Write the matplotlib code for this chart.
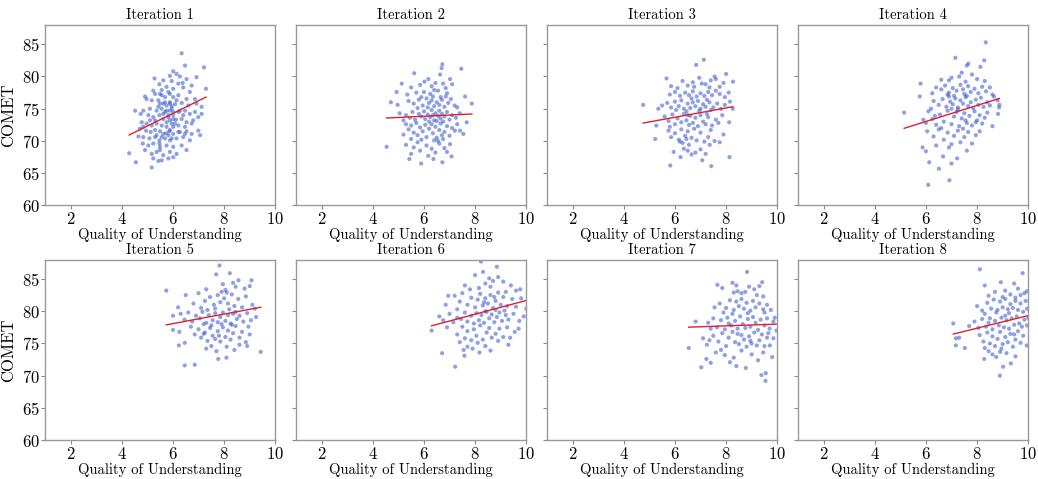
import numpy as np
import matplotlib
matplotlib.use("Agg")
import matplotlib.pyplot as plt

plt.rcParams["font.family"] = "serif"
plt.rcParams["font.serif"] = ["cmr10", "DejaVu Serif"]
plt.rcParams["mathtext.fontset"] = "cm"
plt.rcParams["axes.formatter.use_mathtext"] = True

# (quality, comet) pairs
it1 = [(6.34, 83.6), (6.47, 81.7), (7.21, 81.4), (6.01, 80.8), (5.88, 80.1), (6.14, 80.4), (6.27, 80.0),
       (5.28, 79.7), (5.62, 79.4), (6.92, 79.9), (6.53, 79.6), (5.95, 79.3), (6.21, 78.9), (6.73, 78.6),
       (6.38, 79.0), (5.47, 78.8), (5.75, 78.4), (7.29, 78.1), (5.56, 77.9), (5.23, 77.8), (6.01, 78.1),
       (5.82, 77.6), (6.40, 78.3), (6.66, 77.6), (4.91, 76.9), (4.97, 76.5), (5.30, 77.3), (5.56, 77.1),
       (5.88, 77.3), (6.01, 76.8), (6.21, 77.1), (6.53, 76.5), (6.86, 76.5), (5.17, 76.3), (5.43, 76.3),
       (5.69, 76.0), (5.88, 75.8), (5.49, 75.8), (5.75, 75.5), (5.95, 75.4), (6.08, 75.7), (6.34, 75.9),
       (6.60, 75.5), (6.92, 75.8), (7.12, 75.3), (4.52, 74.7), (4.84, 74.7), (5.10, 75.0), (5.36, 74.7),
       (5.56, 75.0), (5.69, 74.5), (5.88, 74.7), (6.01, 74.5), (6.21, 74.5), (6.47, 74.7), (6.66, 74.2),
       (6.86, 74.5), (7.12, 74.2), (4.74, 74.2), (5.04, 74.0), (5.23, 73.7), (5.47, 74.0), (5.62, 73.4),
       (5.82, 73.7), (6.01, 74.0), (6.12, 73.3), (6.34, 73.4), (6.53, 72.9), (6.79, 73.2), (6.99, 73.7),
       (4.78, 72.9), (4.97, 72.7), (5.17, 72.4), (5.36, 72.7), (5.56, 72.4), (5.75, 72.9), (5.95, 72.7),
       (6.21, 72.4), (6.47, 72.2), (6.73, 72.7), (4.95, 71.6), (5.13, 71.4), (5.30, 71.7), (5.49, 71.5),
       (5.73, 71.2), (5.86, 71.5), (6.01, 71.1), (6.27, 71.4), (6.53, 71.5), (6.73, 71.1), (6.99, 71.6),
       (4.65, 70.7), (4.84, 70.6), (5.08, 70.4), (5.30, 70.6), (5.47, 70.1), (5.69, 70.4), (5.88, 70.1),
       (6.14, 70.4), (6.40, 70.6), (6.66, 70.1), (7.06, 70.9), (4.82, 69.6), (5.04, 69.3), (5.23, 69.6),
       (5.49, 69.1), (5.75, 69.3), (6.01, 69.1), (6.34, 69.3), (6.53, 68.6), (4.29, 68.1), (4.91, 68.6),
       (5.17, 68.0), (5.36, 68.3), (5.62, 67.8), (5.88, 68.3), (6.01, 67.5), (6.14, 68.0), (4.55, 66.7),
       (5.23, 67.3), (5.56, 67.0), (5.82, 67.3), (5.17, 65.9), (5.43, 66.9), (5.49, 68.6), (5.62, 75.8),
       (5.88, 76.0), (5.95, 75.0), (5.75, 74.7), (5.62, 74.2), (5.82, 74.0), (6.01, 73.4), (5.88, 73.2),
       (6.08, 72.7), (5.75, 72.2), (5.88, 71.7), (6.01, 72.2), (5.62, 71.1), (5.82, 70.9), (5.56, 70.6),
       (5.95, 70.4), (5.36, 70.9), (5.47, 69.6), (5.30, 73.2), (5.43, 75.3), (5.49, 77.3), (5.69, 76.8),
       (6.14, 76.3), (6.27, 74.7), (6.40, 74.0), (6.21, 71.4), (6.47, 71.1), (5.10, 73.2), (4.84, 72.2),
       (4.71, 71.9)]

it2 = [(5.13, 78.9), (5.62, 80.5), (6.02, 79.2), (6.17, 79.6), (6.63, 80.3), (6.69, 81.3), (6.72, 81.9),
       (7.02, 79.6), (7.46, 81.2), (4.93, 77.6), (5.5, 78.3), (5.85, 78.7), (6.3, 78.5), (6.45, 79.0),
       (6.85, 78.2), (7.1, 78.8), (6.0, 77.6), (6.25, 77.3), (5.7, 77.5), (6.55, 77.8), (6.9, 77.4),
       (7.61, 76.9), (5.35, 77.2), (6.4, 77.9), (6.75, 78.9), (4.71, 76.0), (4.97, 75.6), (5.4, 76.2),
       (5.6, 75.8), (5.8, 76.4), (5.95, 75.5), (6.1, 76.6), (6.2, 75.9), (6.3, 76.3), (6.4, 75.4),
       (6.5, 76.0), (6.6, 75.6), (6.7, 76.4), (6.8, 75.3), (6.95, 75.9), (7.05, 76.5), (7.2, 75.5),
       (7.87, 75.8), (5.9, 76.8), (6.35, 76.9), (6.65, 76.8), (6.15, 75.2), (5.75, 75.1), (6.85, 76.9),
       (7.3, 75.2), (5.05, 74.3), (5.3, 74.0), (5.45, 73.6), (5.55, 74.5), (5.65, 73.3), (5.8, 74.2),
       (5.9, 73.8), (6.0, 74.6), (6.05, 73.4), (6.15, 74.1), (6.25, 73.7), (6.3, 74.8), (6.4, 73.2),
       (6.45, 74.3), (6.55, 73.9), (6.6, 74.7), (6.65, 73.5), (6.7, 74.2), (6.8, 73.8), (6.9, 74.5),
       (7.0, 73.3), (7.1, 74.0), (7.25, 73.6), (7.4, 74.3), (7.67, 72.9), (5.2, 73.2), (6.2, 73.0),
       (6.5, 73.1), (6.75, 73.0), (6.35, 74.0), (5.3, 72.6), (5.4, 71.8), (5.5, 72.4), (5.6, 71.3),
       (5.7, 72.8), (5.75, 70.9), (5.85, 72.1), (5.95, 71.5), (6.05, 72.5), (6.1, 70.6), (6.2, 71.9),
       (6.3, 72.6), (6.35, 71.2), (6.45, 72.2), (6.5, 70.5), (6.6, 71.7), (6.65, 72.7), (6.7, 70.9),
       (6.8, 71.4), (6.9, 72.3), (7.0, 70.8), (7.1, 72.0), (7.21, 71.6), (7.41, 71.6), (7.54, 71.1),
       (5.5, 70.3), (5.9, 70.2), (6.4, 70.1), (6.55, 70.0), (6.75, 70.3), (5.2, 71.0), (7.3, 72.6),
       (4.54, 69.1), (5.3, 69.4), (5.6, 69.0), (5.85, 68.5), (6.1, 69.3), (6.3, 68.8), (6.6, 69.6),
       (7.02, 69.5), (6.45, 68.2), (6.8, 68.9), (5.5, 68.0), (6.17, 67.7), (6.37, 67.2), (5.43, 67.2),
       (5.89, 66.5), (6.72, 66.7), (7.08, 67.6), (6.9, 68.3), (5.75, 69.8)]

it3 = [(7.13, 82.6), (6.83, 81.8), (5.67, 79.7), (8.0, 80.4), (8.27, 79.2), (7.55, 80.0), (7.6, 79.6),
       (7.4, 79.4), (7.2, 78.8), (6.7, 79.1), (6.5, 78.6), (6.3, 79.3), (5.85, 78.5), (6.95, 79.8),
       (7.75, 78.4), (7.9, 79.0), (6.1, 78.2), (7.35, 78.3), (6.75, 78.4), (7.05, 78.9), (5.8, 77.2),
       (6.0, 77.6), (6.2, 77.0), (6.4, 77.5), (6.55, 77.1), (6.7, 77.7), (6.85, 76.9), (7.0, 77.4),
       (7.15, 77.0), (7.3, 77.6), (7.45, 77.1), (7.6, 77.8), (7.75, 77.3), (7.95, 76.8), (8.1, 77.5),
       (6.65, 76.6), (7.25, 76.4), (4.76, 75.6), (5.5, 75.5), (5.7, 75.9), (5.85, 75.2), (6.0, 76.1),
       (6.15, 75.4), (6.25, 76.3), (6.35, 75.0), (6.5, 75.8), (6.6, 75.1), (6.7, 76.0), (6.8, 75.4),
       (6.9, 76.2), (7.0, 75.0), (7.1, 75.7), (7.2, 75.3), (7.35, 76.0), (7.5, 75.2), (7.65, 75.8),
       (7.8, 75.0), (7.95, 75.6), (8.26, 75.0), (8.15, 76.1), (6.45, 74.6), (6.95, 74.7), (7.4, 74.8),
       (5.35, 75.0), (6.05, 74.8), (5.27, 72.4), (5.6, 73.8), (5.75, 73.1), (5.9, 74.1), (6.0, 72.6),
       (6.1, 73.5), (6.25, 72.9), (6.35, 74.2), (6.45, 73.2), (6.55, 72.5), (6.6, 73.9), (6.7, 72.8),
       (6.8, 73.6), (6.9, 72.3), (7.0, 74.0), (7.1, 73.0), (7.2, 72.6), (7.3, 73.7), (7.45, 72.4),
       (7.6, 73.3), (7.7, 72.8), (7.85, 74.0), (8.12, 72.9), (6.5, 74.0), (7.25, 74.2), (5.8, 72.2),
       (5.23, 70.3), (5.75, 71.6), (5.85, 70.6), (6.0, 71.2), (6.15, 70.2), (6.25, 71.8), (6.3, 69.7),
       (6.4, 70.8), (6.5, 71.5), (6.55, 69.4), (6.65, 70.5), (6.75, 71.9), (6.85, 70.1), (7.0, 71.3),
       (7.15, 69.9), (7.3, 70.6), (7.4, 71.7), (7.55, 70.0), (7.75, 69.8), (7.36, 69.4), (6.2, 69.9),
       (6.45, 70.3), (7.9, 71.0), (5.82, 66.2), (7.42, 66.1), (8.13, 67.5), (7.07, 67.0), (6.22, 67.5),
       (6.5, 68.5), (6.8, 68.2), (7.0, 68.7), (6.35, 68.8), (7.2, 68.0), (5.95, 68.3), (6.65, 67.9)]

it4 = [(8.34, 85.3), (7.15, 82.9), (7.66, 82.0), (8.28, 82.5), (8.13, 81.5), (7.6, 81.7), (7.4, 80.6),
       (6.9, 79.4), (7.0, 79.8), (7.3, 80.0), (7.8, 80.3), (8.0, 79.6), (8.3, 79.3), (6.6, 79.5),
       (7.55, 79.2), (5.79, 78.9), (6.4, 78.3), (6.6, 78.0), (6.75, 78.6), (6.9, 77.5), (7.05, 78.2),
       (7.2, 77.8), (7.35, 78.7), (7.5, 77.3), (7.65, 78.5), (7.75, 77.6), (7.9, 78.1), (8.05, 77.4),
       (8.2, 78.4), (8.35, 77.7), (8.5, 78.3), (6.85, 77.2), (7.1, 77.0), (7.45, 78.0), (8.6, 77.2),
       (6.25, 77.4), (5.76, 76.9), (6.3, 76.2), (6.5, 75.6), (6.65, 76.5), (6.8, 75.3), (6.95, 76.1),
       (7.05, 75.7), (7.15, 76.6), (7.25, 75.2), (7.35, 76.3), (7.45, 75.8), (7.55, 76.8), (7.65, 75.4),
       (7.75, 76.0), (7.85, 75.1), (7.95, 76.4), (8.05, 75.6), (8.15, 76.7), (8.25, 75.3), (8.4, 76.0),
       (8.66, 76.9), (8.86, 75.2), (8.8, 76.3), (6.2, 75.0), (6.9, 76.9), (7.6, 77.0), (8.5, 75.5),
       (7.0, 75.0), (5.15, 74.4), (5.9, 73.3), (6.0, 72.8), (6.1, 74.6), (6.25, 73.4), (6.4, 72.5),
       (6.55, 74.1), (6.7, 73.0), (6.85, 74.7), (7.0, 72.6), (7.1, 73.8), (7.2, 74.5), (7.3, 72.3),
       (7.4, 73.5), (7.5, 74.3), (7.6, 72.8), (7.7, 73.9), (7.8, 72.4), (7.9, 74.6), (8.0, 73.2),
       (8.1, 74.0), (8.2, 72.7), (8.3, 73.6), (8.82, 74.2), (8.6, 72.3), (6.6, 72.0), (7.25, 74.9),
       (7.55, 73.2), (7.95, 72.9), (8.4, 74.4), (6.35, 73.9), (6.05, 71.5), (6.3, 70.7), (6.5, 71.8),
       (6.7, 70.2), (6.85, 71.3), (7.0, 69.5), (7.1, 70.8), (7.25, 71.6), (7.35, 69.8), (7.5, 70.6),
       (7.65, 71.4), (7.8, 69.6), (7.95, 70.9), (6.9, 69.0), (6.4, 69.3), (5.87, 69.0), (6.0, 68.4),
       (7.6, 68.5), (7.45, 71.9), (8.1, 71.5), (6.09, 63.2), (6.92, 63.9), (6.13, 66.7), (6.51, 65.7),
       (6.67, 67.6), (7.22, 67.3), (7.0, 66.5), (8.87, 75.6)]

it5 = [(7.82, 87.1), (8.22, 85.9), (7.69, 85.7), (9.07, 84.8), (8.56, 84.8), (5.74, 83.2), (7.95, 84.2),
       (8.35, 84.4), (7.3, 83.4), (8.05, 83.3), (8.45, 83.8), (8.8, 83.5), (7.9, 83.0), (8.1, 82.9),
       (9.0, 83.9), (6.5, 82.5), (7.0, 82.8), (7.25, 81.6), (7.45, 82.2), (7.6, 81.0), (7.75, 82.5),
       (7.85, 81.4), (8.0, 82.0), (8.15, 81.2), (8.3, 82.6), (8.4, 80.8), (8.55, 81.9), (8.7, 80.6),
       (8.85, 82.3), (9.1, 81.0), (6.8, 81.2), (7.1, 80.5), (8.2, 80.3), (7.35, 80.2), (6.2, 80.6),
       (9.2, 80.4), (7.65, 80.4), (6.3, 79.6), (6.45, 78.7), (6.6, 79.8), (6.75, 78.4), (6.9, 79.3),
       (7.05, 78.9), (7.15, 79.9), (7.3, 78.2), (7.4, 79.4), (7.55, 78.6), (7.65, 79.7), (7.75, 78.3),
       (7.85, 79.1), (7.95, 79.8), (8.05, 78.5), (8.15, 79.4), (8.25, 78.1), (8.35, 79.6), (8.5, 78.8),
       (8.6, 79.3), (8.75, 78.4), (8.9, 79.7), (9.05, 78.6), (9.25, 79.1), (6.0, 79.3), (7.2, 78.0),
       (7.9, 78.0), (8.45, 79.9), (6.0, 77.1), (6.25, 76.8), (6.7, 77.6), (6.85, 76.4), (7.0, 77.2),
       (7.1, 75.9), (7.25, 76.7), (7.35, 75.4), (7.45, 77.4), (7.55, 76.2), (7.65, 75.7), (7.75, 76.9),
       (7.85, 75.3), (7.95, 77.5), (8.05, 76.0), (8.15, 77.0), (8.25, 75.6), (8.35, 76.6), (8.45, 77.7),
       (8.6, 75.9), (8.7, 76.8), (8.85, 75.2), (9.0, 76.4), (8.95, 77.6), (7.5, 77.8), (8.3, 77.9),
       (7.2, 76.5), (7.8, 76.2), (9.43, 73.7), (6.46, 71.6), (6.85, 71.7), (7.77, 72.6), (8.09, 72.8),
       (6.23, 74.7), (6.46, 75.1), (7.3, 74.2), (7.7, 73.8), (8.1, 74.5), (8.4, 74.0), (8.6, 74.8),
       (7.5, 74.6), (8.9, 74.6)]

it6 = [(8.23, 87.7), (8.85, 86.9), (8.31, 86.1), (8.0, 85.6), (9.76, 83.4), (7.8, 83.4), (8.55, 85.1),
       (8.7, 84.7), (8.9, 85.3), (8.4, 84.3), (9.1, 84.6), (9.4, 84.0), (8.15, 83.6), (7.6, 84.0),
       (8.6, 83.8), (9.6, 83.2), (6.95, 82.4), (7.2, 82.4), (7.4, 81.5), (7.5, 82.8), (7.7, 81.0),
       (7.85, 82.1), (8.0, 80.6), (8.1, 81.8), (8.2, 82.7), (8.3, 80.9), (8.4, 82.0), (8.5, 81.2),
       (8.6, 82.5), (8.7, 80.5), (8.8, 81.6), (8.9, 82.9), (9.0, 81.0), (9.1, 82.2), (9.25, 80.8),
       (9.45, 81.9), (9.6, 80.7), (9.8, 82.0), (6.85, 81.0), (7.3, 80.3), (8.35, 81.4), (8.75, 82.2),
       (9.2, 83.0), (6.6, 79.2), (6.75, 78.6), (7.0, 79.6), (7.15, 78.3), (7.3, 79.0), (7.45, 78.8),
       (7.6, 79.8), (7.7, 78.4), (7.85, 79.3), (7.95, 78.1), (8.05, 79.7), (8.15, 78.6), (8.25, 79.4),
       (8.35, 78.2), (8.45, 79.9), (8.55, 78.9), (8.65, 79.5), (8.75, 78.3), (8.85, 79.1), (8.95, 79.8),
       (9.05, 78.5), (9.2, 79.4), (9.3, 78.7), (9.5, 79.6), (9.73, 78.5), (9.9, 79.2), (8.4, 80.0),
       (8.8, 80.2), (9.15, 80.1), (6.30, 77.0), (6.9, 77.5), (7.3, 76.4), (7.5, 77.6), (7.6, 75.8),
       (7.7, 76.9), (7.85, 75.5), (7.95, 77.2), (8.05, 76.2), (8.2, 77.8), (8.3, 75.6), (8.45, 76.7),
       (8.55, 77.4), (8.65, 75.9), (8.8, 76.5), (8.95, 77.3), (9.1, 76.0), (9.25, 77.5), (9.37, 75.9),
       (9.55, 76.8), (9.7, 77.3), (7.4, 75.2), (8.1, 75.1), (8.9, 75.4), (6.71, 73.5), (7.22, 71.4),
       (7.58, 73.1), (8.17, 73.6), (7.9, 74.2), (8.4, 74.6), (7.7, 74.5), (8.6, 73.9), (9.3, 74.8),
       (7.55, 74.0), (10.0, 80.4)]

it7 = [(8.82, 86.1), (9.41, 84.5), (8.25, 84.4), (7.66, 84.1), (8.4, 84.0), (8.9, 83.8), (9.1, 83.4),
       (9.3, 83.9), (8.6, 82.8), (9.2, 82.5), (8.3, 82.9), (8.45, 83.1), (7.85, 83.6), (9.45, 82.3),
       (8.75, 83.0), (7.75, 81.2), (8.0, 80.5), (8.15, 81.7), (8.3, 80.2), (8.4, 81.5), (8.5, 80.8),
       (8.6, 81.9), (8.7, 80.4), (8.8, 81.3), (8.95, 80.1), (9.05, 81.6), (9.15, 80.6), (9.3, 81.2),
       (9.45, 80.3), (9.6, 81.0), (7.55, 80.6), (7.9, 79.8), (8.25, 79.6), (8.85, 79.7), (9.5, 79.8),
       (9.75, 80.2), (6.81, 78.4), (7.3, 78.2), (7.5, 78.9), (7.65, 77.5), (7.8, 78.6), (7.95, 77.2),
       (8.05, 79.0), (8.2, 77.8), (8.35, 78.5), (8.45, 77.3), (8.55, 79.2), (8.65, 78.0), (8.75, 77.4),
       (8.85, 78.8), (8.95, 77.6), (9.05, 79.1), (9.15, 78.2), (9.25, 77.1), (9.35, 78.7), (9.5, 77.8),
       (9.6, 78.9), (9.7, 77.3), (9.85, 78.4), (9.97, 77.0), (9.9, 79.0), (7.4, 77.3), (8.1, 78.1),
       (6.54, 74.3), (7.1, 75.8), (7.25, 74.8), (7.5, 76.2), (7.7, 75.3), (7.85, 76.6), (8.0, 74.6),
       (8.1, 75.9), (8.25, 76.8), (8.35, 75.2), (8.5, 74.9), (8.6, 76.3), (8.7, 75.6), (8.8, 74.5),
       (8.9, 76.1), (9.0, 75.0), (9.1, 76.7), (9.2, 74.7), (9.3, 75.5), (9.4, 76.4), (9.5, 74.6),
       (9.6, 75.9), (9.71, 74.7), (9.85, 75.8), (9.65, 76.6), (8.45, 76.5), (8.95, 75.4), (7.35, 75.5),
       (7.03, 71.3), (7.40, 72.0), (7.23, 72.6), (8.4, 71.5), (8.77, 71.2), (9.54, 69.2), (9.38, 70.1),
       (9.55, 70.4), (7.6, 73.6), (7.95, 73.2), (8.3, 72.8), (8.6, 73.9), (9.0, 73.3), (9.25, 72.4),
       (9.45, 73.6), (9.8, 72.9), (8.15, 72.1), (7.8, 74.0)]

it8 = [(8.11, 86.5), (9.78, 85.9), (8.93, 84.5), (8.3, 84.0), (9.45, 84.3), (9.1, 83.2), (9.6, 83.5),
       (8.7, 83.0), (9.3, 82.6), (9.85, 82.8), (8.45, 82.4), (9.0, 82.2), (9.5, 82.1), (9.7, 82.5),
       (9.95, 83.1), (8.0, 80.8), (8.2, 80.1), (8.4, 81.3), (8.55, 80.4), (8.65, 81.8), (8.8, 80.2),
       (8.9, 81.5), (9.0, 80.6), (9.1, 81.9), (9.2, 80.3), (9.3, 81.1), (9.4, 80.5), (9.5, 81.6),
       (9.6, 80.2), (9.7, 81.2), (9.8, 79.9), (9.9, 81.6), (9.95, 80.4), (8.3, 79.6), (8.75, 79.8),
       (9.25, 79.7), (7.07, 78.1), (7.69, 77.7), (7.9, 78.4), (8.05, 77.4), (8.2, 78.8), (8.35, 77.6),
       (8.5, 78.9), (8.6, 77.2), (8.7, 78.5), (8.85, 77.8), (8.95, 79.0), (9.05, 77.5), (9.15, 78.6),
       (9.25, 77.3), (9.35, 78.9), (9.45, 77.9), (9.55, 79.2), (9.65, 78.1), (9.75, 77.6), (9.85, 78.7),
       (9.95, 77.8), (8.45, 78.2), (9.1, 79.3), (7.17, 75.8), (7.52, 74.3), (7.17, 74.7), (7.3, 75.9),
       (8.1, 76.3), (8.25, 75.3), (8.4, 76.7), (8.5, 75.0), (8.6, 76.1), (8.7, 74.6), (8.8, 75.7),
       (8.9, 76.8), (9.0, 74.9), (9.1, 76.0), (9.2, 75.2), (9.3, 76.5), (9.4, 74.5), (9.5, 75.6),
       (9.6, 76.9), (9.7, 75.1), (9.8, 76.2), (9.94, 74.7), (8.3, 74.3), (8.95, 74.2), (9.45, 76.4),
       (8.28, 72.6), (8.89, 70.0), (9.02, 71.4), (9.32, 71.9), (8.6, 73.3), (8.75, 72.9), (9.15, 73.5),
       (8.45, 73.8), (9.5, 73.0), (8.9, 73.7), (10.0, 79.0)]

# regression lines
fit_slope = [1.957, 0.186, 0.723, 1.247, 0.74, 1.062, 0.136, 0.98]
fit_intercept = [62.54, 72.72, 69.34, 65.54, 73.64, 71.05, 76.64, 69.53]

iterations = [it1, it2, it3, it4, it5, it6, it7, it8]

fig, axes = plt.subplots(2, 4, figsize=(10.38, 4.79), dpi=100, sharey=True)
plt.subplots_adjust(left=0.0434, right=0.9906, top=0.948, bottom=0.081,
                    wspace=0.09, hspace=0.30)

for i, ax in enumerate(axes.flatten()):
    pts = np.array(iterations[i])
    x, y = pts[:, 0], pts[:, 1]
    ax.scatter(x, y, s=9, color="#3355cc", alpha=0.55, edgecolors="none")
    xs = np.array([x.min(), x.max()])
    ax.plot(xs, fit_slope[i] * xs + fit_intercept[i], color="#e0202a", lw=1.0)
    ax.set_xlim(1, 10)
    ax.set_ylim(60, 88)
    ax.set_xticks([2, 4, 6, 8, 10])
    ax.set_yticks([60, 65, 70, 75, 80, 85])
    ax.set_title("Iteration {}".format(i + 1), fontsize=10.5, pad=4)
    ax.set_xlabel("Quality of Understanding", fontsize=10.5, labelpad=0.5)
    ax.tick_params(labelsize=12, color="#888888", length=3, pad=1)
    for s in ax.spines.values():
        s.set_color("#999999")
        s.set_linewidth(1.0)
    if i % 4 == 0:
        ax.set_ylabel("COMET", fontsize=12, labelpad=4)

plt.savefig("out.png", dpi=100)
